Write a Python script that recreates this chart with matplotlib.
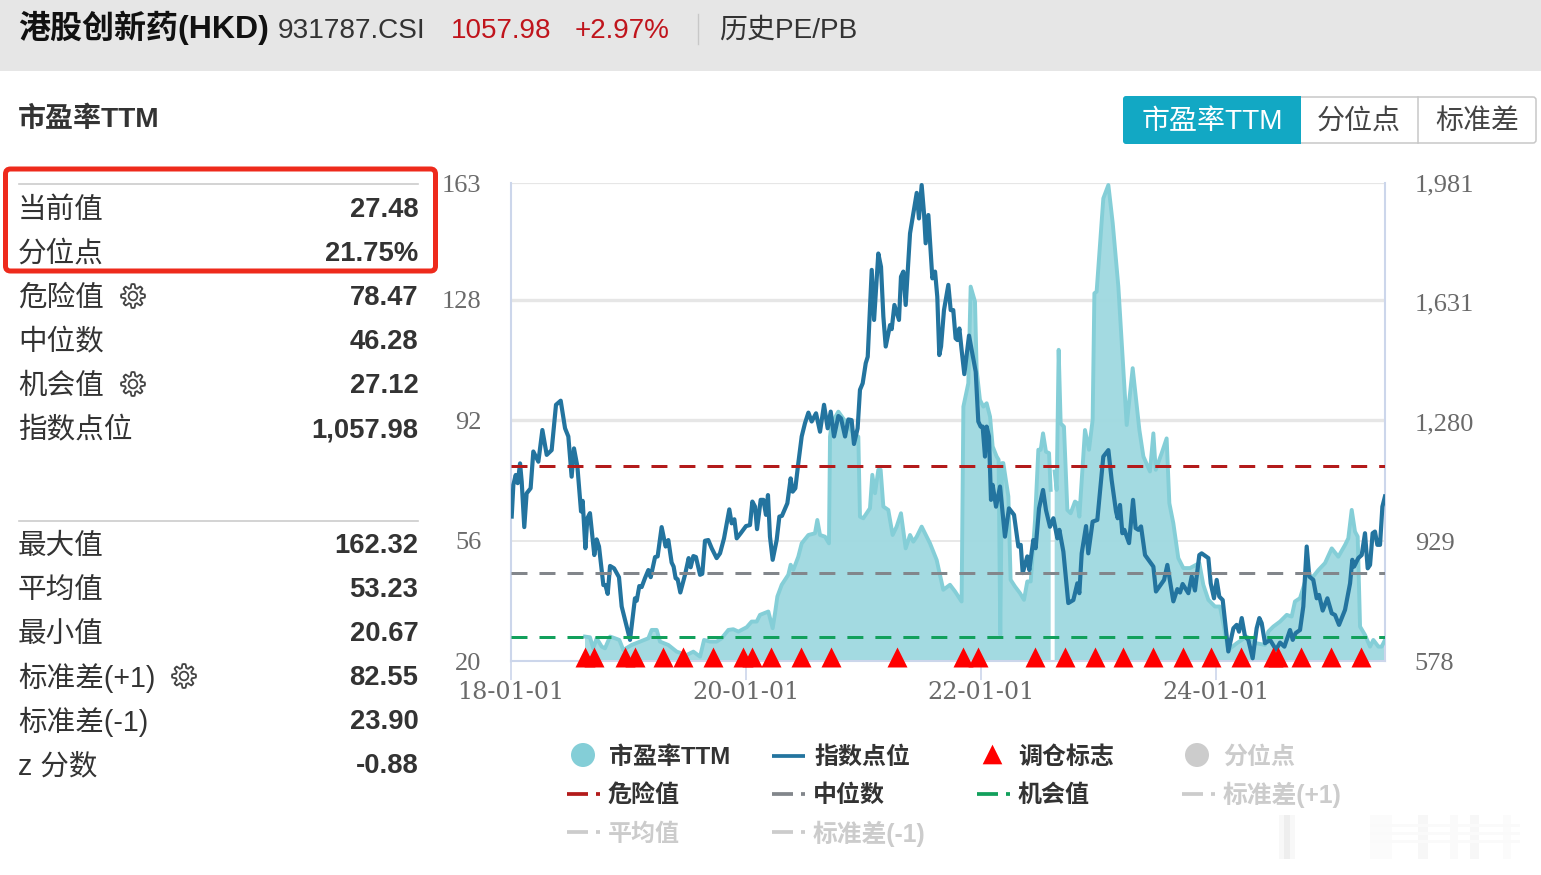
import numpy as np
import matplotlib
matplotlib.use('Agg')
import matplotlib.pyplot as plt
from matplotlib.patches import Rectangle, FancyBboxPatch, PathPatch, Circle
from matplotlib.path import Path
from matplotlib.transforms import ScaledTranslation

# years since 2018-01-01
pe_t = [.630,.672,.700,.729,.772,.800,.843,.885,.922,.956,1.027,1.098,1.169,1.197,1.240,1.268,1.339,1.410,1.495,1.552,1.609,1.643,1.694,1.750,1.793,1.850,1.892,1.935,2.006,2.048,2.091,2.119,2.190,2.227,2.247,2.267,2.304,2.360,2.380,2.403,2.445,2.474,2.531,2.587,2.607,2.630,2.672,2.706,2.715,2.729,2.786,2.857,2.913,2.956,2.970,2.998,3.055,3.075,3.098,3.126,3.146,3.169,3.211,3.248,3.282,3.319,3.359,3.396,3.424,3.453,3.495,3.538,3.566,3.623,3.679,3.736,3.779,3.835,3.850,3.892,3.912,3.949,3.963,3.991,4.020,4.048,4.077,4.099,4.133,4.150,4.164,4.179,4.190,4.233,4.252,4.289,4.332,4.366,4.394,4.423,4.460,4.488,4.508,4.528,4.553,4.579,4.593,4.600,4.627,4.644,4.661,4.678,4.706,4.735,4.763,4.800,4.820,4.837,4.885,4.919,4.950,4.965,4.984,5.041,5.084,5.121,5.169,5.240,5.291,5.348,5.382,5.438,5.467,5.487,5.538,5.580,5.603,5.637,5.679,5.722,5.779,5.858,5.892,5.935,5.991,6.034,6.105,6.176,6.261,6.346,6.417,6.445,6.488,6.545,6.602,6.644,6.672,6.715,6.772,6.828,6.871,6.928,6.985,7.041,7.098,7.126,7.155,7.183,7.206,7.226,7.268,7.311,7.339,7.382,7.410,7.438]
pe_val = [27.3,27.1,23.8,26.8,24.3,23.8,27.3,26.8,26.3,23.3,24.8,25.8,26.8,29.3,29.3,25.8,24.8,22.8,21.8,22.8,21.3,26.3,25.8,25.8,26.8,29.3,29.5,28.8,30.1,31.8,31.8,33.8,34.8,29.8,34.3,39.3,42.8,45.8,48.8,47.3,51.2,55.2,57.7,58.2,62.2,57.7,57.2,55.2,87.1,91.1,94.6,91.1,88.1,87.1,63.2,62.7,65.7,75.7,70.2,77.2,77.2,66.2,65.2,57.7,60.2,64.2,53.7,57.7,55.7,57.2,60.2,57.2,55.2,50.2,41.3,42.8,40.8,37.8,96.1,103.1,132.0,127.5,107.1,98.1,96.1,97.1,93.1,84.2,81.2,80.2,27.8,79.2,79.2,69.2,44.3,42.3,40.3,38.3,43.8,43.8,62.2,83.2,83.2,88.1,82.6,82.2,71.2,np.nan,76.7,71.2,113.1,91.1,90.1,65.2,64.2,67.7,67.2,63.2,89.1,83.2,92.1,130.0,130.5,158.4,162.4,151.0,132.0,90.6,107.6,89.1,81.2,76.7,88.1,77.2,82.2,86.6,67.2,61.2,50.8,47.8,47.8,49.3,42.8,38.3,36.3,36.3,23.3,25.3,27.3,25.3,24.8,28.8,30.3,31.8,33.8,33.3,37.8,38.8,45.3,45.3,47.2,49.3,53.7,51.2,54.7,56.7,65.2,58.7,57.2,30.3,27.8,24.3,26.3,24.3,24.3,26.3]

idx_t = [.006,.020,.040,.057,.077,.091,.113,.133,.167,.190,.233,.267,.304,.346,.383,.423,.460,.488,.516,.536,.565,.596,.610,.633,.650,.672,.709,.729,.749,.786,.803,.823,.843,.877,.919,.942,1.013,1.055,1.070,1.092,1.112,1.140,1.169,1.189,1.226,1.248,1.282,1.316,1.339,1.367,1.384,1.401,1.418,1.441,1.481,1.512,1.529,1.552,1.574,1.609,1.628,1.651,1.679,1.708,1.750,1.779,1.813,1.858,1.878,1.901,1.921,1.955,2.000,2.034,2.054,2.077,2.094,2.125,2.148,2.170,2.187,2.204,2.227,2.261,2.284,2.306,2.352,2.380,2.397,2.420,2.445,2.474,2.502,2.531,2.559,2.596,2.630,2.664,2.695,2.721,2.749,2.786,2.809,2.843,2.871,2.899,2.919,2.950,2.970,2.993,3.019,3.036,3.070,3.090,3.126,3.149,3.169,3.189,3.226,3.240,3.263,3.302,3.319,3.339,3.359,3.396,3.453,3.472,3.495,3.515,3.529,3.552,3.586,3.609,3.628,3.645,3.660,3.685,3.722,3.742,3.764,3.784,3.799,3.816,3.835,3.858,3.898,3.955,3.977,3.997,4.014,4.034,4.048,4.068,4.085,4.099,4.128,4.162,4.204,4.238,4.281,4.318,4.338,4.355,4.394,4.411,4.445,4.465,4.494,4.528,4.553,4.587,4.616,4.650,4.667,4.701,4.743,4.786,4.820,4.837,4.857,4.894,4.913,4.950,4.990,5.041,5.084,5.112,5.149,5.163,5.183,5.203,5.220,5.260,5.294,5.316,5.339,5.362,5.396,5.467,5.489,5.538,5.558,5.586,5.637,5.671,5.694,5.716,5.765,5.793,5.821,5.858,5.878,5.935,5.955,5.983,6.006,6.028,6.057,6.105,6.148,6.176,6.196,6.219,6.247,6.275,6.312,6.346,6.369,6.389,6.417,6.460,6.511,6.545,6.582,6.630,6.653,6.678,6.715,6.743,6.772,6.794,6.828,6.857,6.877,6.908,6.948,6.985,7.013,7.047,7.098,7.141,7.160,7.175,7.211,7.240,7.268,7.291,7.311,7.333,7.353,7.373,7.396,7.416,7.438]
idx_val = [1002,1095,1124,1100,1158,1105,971,1070,1085,1193,1163,1256,1183,1197,1330,1342,1261,1237,1119,1202,1149,1017,1048,909,997,1012,889,935,914,801,801,775,857,850,824,738,640,762,755,798,795,821,845,824,883,885,971,914,933,867,855,821,818,779,831,880,853,886,883,831,834,931,933,909,880,894,938,1023,982,994,938,953,974,977,1046,1031,965,1051,1051,1007,1065,943,875,933,1002,1004,1041,1114,1075,1085,1158,1237,1276,1307,1281,1305,1251,1330,1261,1310,1237,1297,1290,1237,1287,1285,1215,1261,1374,1393,1452,1471,1726,1579,1774,1735,1589,1501,1564,1552,1623,1579,1706,1721,1623,1833,1952,1877,1975,1892,1804,1887,1701,1721,1647,1476,1501,1608,1682,1608,1608,1525,1520,1554,1491,1420,1533,1427,1281,1266,1266,1178,1266,1237,1051,1095,1031,1090,943,1026,1007,914,919,836,885,845,933,909,1026,1080,1021,972,997,938,963,899,748,757,806,777,894,974,894,987,992,1178,1197,1109,1017,997,1036,953,963,924,1051,968,963,973,889,855,782,806,816,860,753,789,779,804,777,826,785,889,894,880,806,762,816,767,757,606,674,684,664,704,650,640,586,674,704,689,630,640,611,632,620,669,640,660,669,738,914,826,816,762,772,726,762,718,713,684,728,806,875,855,880,889,953,850,860,953,958,919,919,1031,1061]

flag_t = [.630,.706,.970,1.055,1.294,1.464,1.719,1.974,2.051,2.213,2.468,2.723,3.285,3.847,3.974,4.460,4.715,4.970,5.209,5.464,5.719,5.957,6.213,6.485,6.528,6.723,6.979,7.234]
flag_pe = 21.2

danger_pe = 78.47
median_pe = 46.28
chance_pe = 27.12

pe_ticks = [20, 56, 92, 128, 163]
idx_ticks = [578, 929, 1280, 1631, 1981]
idx_tick_labels = ['578', '929', '1,280', '1,631', '1,981']
date_ticks = [0, 2, 4, 6]
date_labels = ['18-01-01', '20-01-01', '22-01-01', '24-01-01']

rows_top = [('当前值', '27.48'), ('分位点', '21.75%'), ('危险值', '78.47'),
            ('中位数', '46.28'), ('机会值', '27.12'), ('指数点位', '1,057.98')]
rows_bottom = [('最大值', '162.32'), ('平均值', '53.23'), ('最小值', '20.67'),
               ('标准差(+1)', '82.55'), ('标准差(-1)', '23.90'), ('z 分数', '-0.88')]

W, H = 1541, 875
CJK = ['Liberation Sans', 'Noto Sans CJK SC']
FILL = '#a0d9e0'
EDGE = '#84ced7'
BLUE = '#23749f'
AXC = '#ccd6eb'
TICKC = '#6a6a6a'

fig = plt.figure(figsize=(W / 100, H / 100), dpi=100, facecolor='white')

# page furniture drawn in pixel coordinates
ov = fig.add_axes([0, 0, 1, 1], zorder=0)
ov.set_xlim(0, W)
ov.set_ylim(H, 0)
ov.axis('off')


def tx(x, y, s, px, color='#333333', weight='normal', ha='left', family=CJK):
    # va=center sits about 3px high for these fonts
    ov.text(x, y + 3, s, fontsize=px * 0.72, color=color, weight=weight, ha=ha,
            va='center', family=family)


def gear(cx, cy, r=12):
    ang = np.linspace(0, 2 * np.pi, 97)
    rad = r * (0.84 + 0.16 * np.tanh(3 * np.cos(8 * ang)))
    pts = np.c_[cx + rad * np.cos(ang), cy + rad * np.sin(ang)]
    ov.add_patch(PathPatch(Path(pts), fc='none', ec='#444444', lw=1.3))
    ov.add_patch(Circle((cx, cy), r * 0.36, fc='none', ec='#444444', lw=1.3))


# header
ov.add_patch(Rectangle((0, 0), W, 71, fc='#e6e6e6', ec='none'))
ov.plot([698, 698], [14, 44], color='#c8c8c8', lw=1)
tx(18, 25, '港股创新药(HKD)', 32, color='#111111', weight='bold')
tx(278, 28, '931787.CSI', 28)
tx(451, 28, '1057.98', 27.7, color='#c0141c')
tx(575, 28, '+2.97%', 27.7, color='#c0141c')
tx(719, 28, '历史PE/PB', 28)
tx(18, 117, '市盈率TTM', 28, weight='bold')

# buttons
ov.add_patch(FancyBboxPatch((1130, 97), 406, 46, boxstyle='round,pad=0,rounding_size=3',
                            fc='white', ec='#c8c8c8', lw=1.1))
ov.plot([1418.5, 1418.5], [97, 143], color='#c8c8c8', lw=1.1)
ov.add_patch(FancyBboxPatch((1123, 96), 30, 48, boxstyle='round,pad=0,rounding_size=3',
                            fc='#12a8c4', ec='none'))
ov.add_patch(Rectangle((1128, 96), 173, 48, fc='#12a8c4', ec='none'))
tx(1212, 119, '市盈率TTM', 28, color='white', ha='center')
tx(1359, 119, '分位点', 28, color='#444444', ha='center')
tx(1477, 119, '标准差', 28, color='#444444', ha='center')

# left table
ov.plot([19, 418], [184, 184], color='#cccccc', lw=1.2)
ov.plot([19, 418], [521, 521], color='#cccccc', lw=1.2)
for i, (name, val) in enumerate(rows_top):
    tx(18, 207 + 44 * i, name, 28.6)
    tx(418.5, 207 + 44 * i, val, 27.4, weight='bold', ha='right')
for i, (name, val) in enumerate(rows_bottom):
    tx(18, 543 + 44 * i, name, 28.6)
    tx(418.5, 543 + 44 * i, val, 27.4, weight='bold', ha='right')
gear(133, 296)
gear(133, 384)
gear(184, 676)
ov.add_patch(FancyBboxPatch((5.5, 169), 430, 102, boxstyle='round,pad=0,rounding_size=5',
                            fc='none', ec='#ee2a1c', lw=3.6))

# legend
tx(609, 754, '市盈率TTM', 24, weight='bold')
tx(814, 754, '指数点位', 24, weight='bold')
tx(1018, 754, '调仓标志', 24, weight='bold')
tx(1223, 754, '分位点', 24, color='#cccccc', weight='bold')
tx(608, 792, '危险值', 24, weight='bold')
tx(813, 792, '中位数', 24, weight='bold')
tx(1018, 792, '机会值', 24, weight='bold')
tx(1223, 792, '标准差(+1)', 24.8, color='#cccccc', weight='bold')
tx(608, 831, '平均值', 24, color='#cccccc', weight='bold')
tx(813, 831, '标准差(-1)', 24.8, color='#cccccc', weight='bold')
ov.add_patch(Circle((583, 755), 12, fc=EDGE, ec='none'))
ov.add_patch(Circle((1197, 755), 12, fc='#cccccc', ec='none'))
ov.plot([772, 805], [756, 756], color=BLUE, lw=2.7, solid_capstyle='butt')
ov.scatter([992.5], [754], marker='^', s=200, color='#ff0000', linewidths=0)
for x0, y0, c in [(567, 794, '#b31b1b'), (772, 794, '#82868b'), (977, 794, '#12a05c'),
                  (1182, 794, '#cccccc'), (567, 832, '#cccccc'), (772, 832, '#cccccc')]:
    ov.plot([x0, x0 + 21], [y0, y0], color=c, lw=2.7, solid_capstyle='butt')
    ov.plot([x0 + 29, x0 + 33], [y0, y0], color=c, lw=2.7, solid_capstyle='butt')

# blurred-out watermark, bottom right
for x0, w, c in [(1279, 16, '#f8f8f8'), (1284, 6, '#eeeeee'), (1370, 22, '#fbfbfb'),
                 (1418, 10, '#f7f7f7'), (1450, 8, '#fafafa'), (1470, 9, '#f7f7f7'),
                 (1503, 8, '#fbfbfb')]:
    ov.add_patch(Rectangle((x0, 815), w, 44, fc=c, ec='none'))
for y0 in [824, 832, 840]:
    ov.add_patch(Rectangle((1370, y0), 150, 3, fc='#fafafa', ec='none'))

# chart
rect = [511 / W, 1 - 661 / H, 874 / W, 478 / H]
ax = fig.add_axes(rect, zorder=2, facecolor='none')
ax.set_xlim(0, 874 / 117.5)
ax.set_ylim(20, 163)
for g, lw in [(56, 1.3), (92, 2.4), (128, 2.4), (163, 1.6)]:
    ax.axhline(g, color='#e6e6e6', lw=lw, zorder=1)
ax.fill_between(pe_t, pe_val, 20, color=FILL, lw=0, zorder=2, alpha=0.97)
ax.plot(pe_t, pe_val, color=EDGE, lw=2.8, zorder=3)
ax.set_yticks(pe_ticks)
ax.set_yticklabels([str(v) for v in pe_ticks])
ax.set_xticks(date_ticks)
ax.set_xticklabels(date_labels)
ax.tick_params(axis='y', length=0, pad=21.5, labelsize=19, labelcolor=TICKC)
ax.tick_params(axis='x', length=14, width=1.2, color=AXC, pad=0.5, labelsize=17.2, labelcolor=TICKC)
for lab in ax.get_yticklabels():
    lab.set_family('Liberation Serif')
for lab in ax.get_xticklabels():
    lab.set_family('DejaVu Serif')
for side in ['left', 'right', 'bottom']:
    ax.spines[side].set_color(AXC)
    ax.spines[side].set_linewidth(1.5)
ax.spines['top'].set_visible(False)

ax2 = ax.twinx()
ax2.set_ylim(578, 1981)
ax2.plot(idx_t, idx_val, color=BLUE, lw=3.0, zorder=4, solid_joinstyle='round')
ax2.set_yticks(idx_ticks)
ax2.set_yticklabels(idx_tick_labels)
ax2.tick_params(axis='y', length=0, pad=21.5, labelsize=19, labelcolor=TICKC)
for lab in ax2.get_yticklabels():
    lab.set_family('Liberation Serif')
for s in ax2.spines.values():
    s.set_visible(False)

ax3 = ax.twinx()
ax3.set_ylim(20, 163)
ax3.axis('off')
for val, c in [(danger_pe, '#b31b1b'), (median_pe, '#82868b'), (chance_pe, '#12a05c')]:
    ax3.axhline(val, color=c, lw=2.16, dashes=(5.33, 4), dash_capstyle='butt', zorder=5)
ax3.scatter(flag_t, [flag_pe] * len(flag_t), marker='^', s=207, color='#ff0000',
            linewidths=0, clip_on=False, zorder=6)

fig.savefig('out.png', dpi=100)
